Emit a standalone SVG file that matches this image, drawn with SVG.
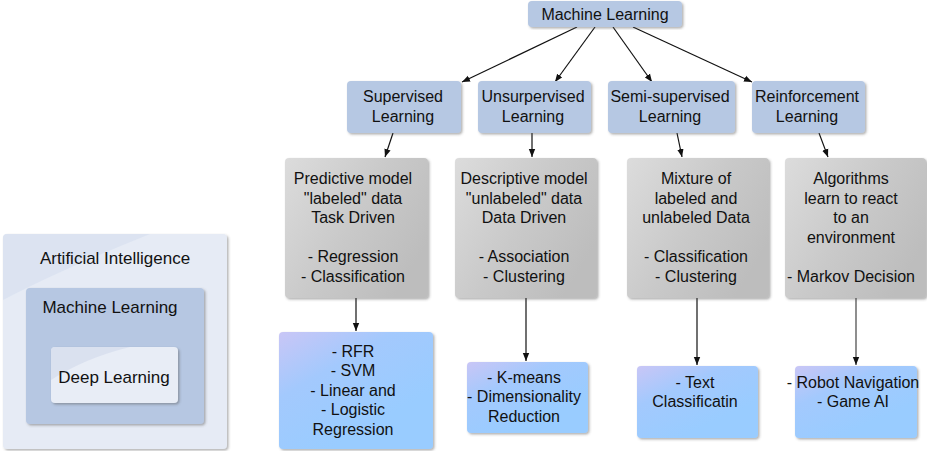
<svg xmlns="http://www.w3.org/2000/svg" width="927" height="451" viewBox="0 0 927 451">
<style>
text{font-family:"Liberation Sans",Arial,sans-serif;font-size:16px;fill:#111;text-anchor:middle}
.big{font-size:17px}
.cat{fill:#b6c8e3}
.gray{fill:url(#gGray)}
.leaf{fill:url(#gLeaf)}
.box{filter:url(#sh)}
.edge{stroke:#111;stroke-width:1.2;fill:none;marker-end:url(#arr)}
</style>
<defs>
<filter id="sh" x="-10%" y="-10%" width="120%" height="120%">
<feDropShadow dx="1.5" dy="1.5" stdDeviation="1" flood-color="#555" flood-opacity="0.45"/>
</filter>
<linearGradient id="gGray" x1="0" y1="0" x2="1" y2="0.6">
<stop offset="0" stop-color="#dcdcdc"/>
<stop offset="0.55" stop-color="#c9c9c9"/>
<stop offset="1" stop-color="#bdbdbd"/>
</linearGradient>
<linearGradient id="gLeaf" x1="0" y1="0" x2="0.6" y2="0.8">
<stop offset="0" stop-color="#c9c6f6"/>
<stop offset="0.45" stop-color="#a3c9fd"/>
<stop offset="1" stop-color="#99ccff"/>
</linearGradient>
<marker id="arr" viewBox="0 0 10 10" refX="10" refY="5" markerWidth="8" markerHeight="8" markerUnits="userSpaceOnUse" orient="auto">
<path d="M0,1 L10,5 L0,9 Z" fill="#111"/>
</marker>
</defs>

<g id="legend">
<g id="ai"><rect class="box" x="3" y="234" width="224" height="215" rx="4" fill="#e6ebf5"/>
<path d="M3,300 L3,238 Q3,234 7,234 L150,234 Q60,270 3,300 Z" fill="#d7e0ef" opacity="0.7"/>
<text class="big" x="115" y="264">Artificial Intelligence</text></g>
<g id="ml-inner"><rect class="box" x="26" y="288" width="178" height="136" rx="4" fill="#b6c7e2"/>
<text class="big" x="110" y="313">Machine Learning</text></g>
<g id="dl"><rect class="box" x="51" y="347" width="127" height="56" rx="4" fill="#e8edf6"/>
<path d="M51,380 L51,351 Q51,347 55,347 L130,347 Q85,358 51,380 Z" fill="#d4dcec" opacity="0.7"/>
<text class="big" x="114" y="383">Deep Learning</text></g>
</g>

<g id="connectors">
<line class="edge" x1="577" y1="27" x2="462" y2="82"/>
<line class="edge" x1="595" y1="27" x2="555" y2="82"/>
<line class="edge" x1="613" y1="27" x2="652" y2="82"/>
<line class="edge" x1="633" y1="27" x2="752" y2="82"/>
<line class="edge" x1="393" y1="133" x2="385" y2="157"/>
<line class="edge" x1="532" y1="133" x2="532" y2="157"/>
<line class="edge" x1="677" y1="133" x2="682" y2="157"/>
<line class="edge" x1="819" y1="133" x2="828" y2="157"/>
<line class="edge" x1="356" y1="298" x2="356" y2="331"/>
<line class="edge" x1="526" y1="298" x2="526" y2="361"/>
<line class="edge" x1="697" y1="298" x2="697" y2="365"/>
<line class="edge" x1="856" y1="298" x2="856" y2="365" style="stroke:#444"/>
</g>

<g id="n-ml"><rect class="box cat" x="528" y="1" width="154" height="26" rx="4"/>
<text x="605" y="20">Machine Learning</text></g>

<g id="n-sup"><rect class="box cat" x="347" y="81" width="114" height="52" rx="4"/>
<text x="403" y="102">Supervised</text><text x="403" y="121.5">Learning</text></g>
<g id="n-unsup"><rect class="box cat" x="478" y="81" width="113" height="52" rx="4"/>
<text x="533" y="102">Unsurpervised</text><text x="533" y="121.5">Learning</text></g>
<g id="n-semi"><rect class="box cat" x="608" y="81" width="127" height="52" rx="4"/>
<text x="670" y="102">Semi-supervised</text><text x="670" y="121.5">Learning</text></g>
<g id="n-rein"><rect class="box cat" x="752" y="81" width="113" height="52" rx="4"/>
<text x="807" y="102">Reinforcement</text><text x="807" y="121.5">Learning</text></g>

<g id="n-pred"><rect class="box gray" x="285" y="158" width="143" height="140" rx="4"/>
<text x="353" y="184">Predictive model</text><text x="353" y="203.5">"labeled" data</text><text x="353" y="223">Task Driven</text>
<text x="353" y="262">- Regression</text><text x="353" y="281.5">- Classification</text></g>
<g id="n-desc"><rect class="box gray" x="455" y="158" width="142" height="140" rx="4"/>
<text x="524" y="184">Descriptive model</text><text x="524" y="203.5">"unlabeled" data</text><text x="524" y="223">Data Driven</text>
<text x="524" y="262">- Association</text><text x="524" y="281.5">- Clustering</text></g>
<g id="n-mix"><rect class="box gray" x="627" y="158" width="142" height="140" rx="4"/>
<text x="696" y="184">Mixture of</text><text x="696" y="203.5">labeled and</text><text x="696" y="223">unlabeled Data</text>
<text x="696" y="262">- Classification</text><text x="696" y="281.5">- Clustering</text></g>
<g id="n-alg"><rect class="box gray" x="785" y="158" width="141" height="140" rx="4"/>
<text x="851" y="184">Algorithms</text><text x="851" y="203.5">learn to react</text><text x="851" y="223">to an</text>
<text x="851" y="242.5">environment</text><text x="851" y="281.5">- Markov Decision</text></g>

<g id="n-rfr"><rect class="box leaf" x="279" y="332" width="154" height="117" rx="4"/>
<text x="353" y="356.5">- RFR</text><text x="353" y="376">- SVM</text><text x="353" y="395.5">- Linear and</text>
<text x="353" y="415">- Logistic</text><text x="353" y="434.5">Regression</text></g>
<g id="n-km"><rect class="box leaf" x="467" y="362" width="121" height="71" rx="4"/>
<text x="524" y="382.5">- K-means</text><text x="524" y="402">- Dimensionality</text><text x="524" y="421.5">Reduction</text></g>
<g id="n-text"><rect class="box leaf" x="637" y="366" width="121" height="72" rx="4"/>
<text x="695" y="387.5">- Text</text><text x="695" y="407">Classificatin</text></g>
<g id="n-robot"><rect class="box leaf" x="795" y="366" width="122" height="72" rx="4"/>
<text x="853" y="387.5">- Robot Navigation</text><text x="853" y="407">- Game AI</text></g>
</svg>
